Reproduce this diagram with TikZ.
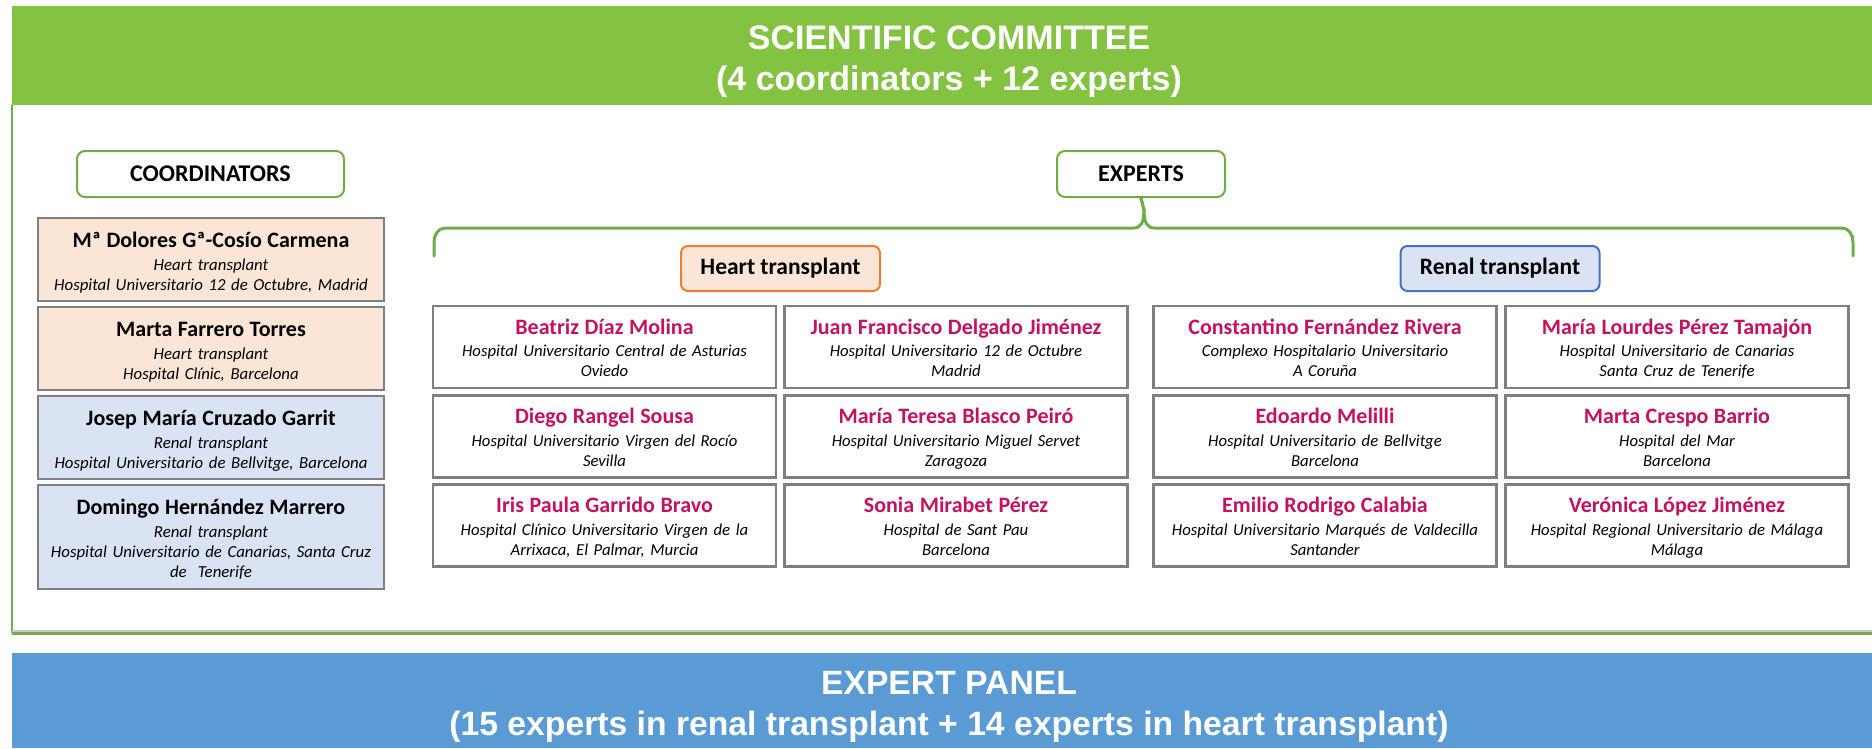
\documentclass[tikz,border=0pt]{standalone}
\usepackage{fontspec}
\setmainfont{Carlito}
\newfontfamily\arialfont{Liberation Sans}
\definecolor{hdrgreen}{RGB}{132,194,65}
\definecolor{linegreen}{RGB}{112,173,71}
\definecolor{panelblue}{RGB}{91,155,213}
\definecolor{peach}{RGB}{251,229,214}
\definecolor{lightblue}{RGB}{218,227,243}
\definecolor{orangeb}{RGB}{237,125,49}
\definecolor{blueb}{RGB}{68,114,196}
\definecolor{boxgray}{RGB}{127,127,127}
\definecolor{namered}{RGB}{196,18,96}
\newcommand\cname[1]{{\fontsize{22}{24}\selectfont\upshape\bfseries\rule{0pt}{23pt}#1}\\[3pt]}
\newcommand\ename[1]{{\fontsize{22}{24}\selectfont\upshape\bfseries\color{namered}\rule{0pt}{21.5pt}#1}\\[2.5pt]}
\newcommand\zs{\rule[-5pt]{0pt}{5pt}}
\tikzset{
  titletext/.style={font=\arialfont\bfseries\fontsize{34}{41}\selectfont, text=white, align=center, inner sep=0},
  grouphead/.style={draw=linegreen, line width=2, rounded corners=8, fill=white, minimum height=46, inner sep=0, font=\bfseries\fontsize{24}{26}\selectfont},
  subhead/.style={line width=2, rounded corners=7, minimum width=199, minimum height=45, inner sep=0, font=\bfseries\fontsize{23.5}{26}\selectfont},
  coordbox/.style={draw=boxgray, line width=2.5, minimum width=346, text width=340, align=center, inner sep=0, font=\itshape\fontsize{16.8}{20}\selectfont},
  expbox/.style={draw=boxgray, line width=2.5, minimum width=343, minimum height=82, text width=338, align=center, inner sep=0, font=\itshape\fontsize{16.7}{20}\selectfont},
  bracket/.style={draw=linegreen, line width=3, line join=round, line cap=round}
}
\begin{document}
\begin{tikzpicture}[x=1pt,y=-1pt]
\useasboundingbox (0,0) rectangle (1872,748);
% header and footer bands
\fill[hdrgreen] (12,6) rectangle (1872,105);
\fill[panelblue] (12,653) rectangle (1872,748);
\node[titletext] (sctitle) at (949,61.5) {SCIENTIFIC COMMITTEE\\(4 coordinators + 12 experts)};
\node[titletext, font=\arialfont\bfseries\fontsize{33.7}{41}\selectfont] (eptitle) at (949,707) {EXPERT PANEL\\(15 experts in renal transplant + 14 experts in heart transplant)};
% committee frame
\draw[linegreen, line width=1.2] (12,105) -- (12,633);
\draw[black!22, line width=1.5] (12,631) -- (1872,631);
\draw[linegreen, line width=3] (12,633.5) -- (1872,633.5);
% group headers
\node[grouphead, minimum width=267] (coord) at (210.5,174) {COORDINATORS};
\node[grouphead, minimum width=168] (ex) at (1141,174) {EXPERTS};
% coordinators
\node[coordbox, fill=peach, minimum height=83] (c1) at (211,259.5) {\cname{Mª Dolores Gª-Cosío Carmena}Heart transplant\\Hospital Universitario 12 de Octubre, Madrid\zs};
\node[coordbox, fill=peach, minimum height=83] (c2) at (211,348.5) {\cname{Marta Farrero Torres}Heart transplant\\Hospital Clínic, Barcelona\zs};
\node[coordbox, fill=lightblue, minimum height=83] (c3) at (211,437.5) {\cname{Josep María Cruzado Garrit}Renal transplant\\Hospital Universitario de Bellvitge, Barcelona\zs};
\node[coordbox, fill=lightblue, minimum height=104] (c4) at (211,537) {\cname{Domingo Hernández Marrero}Renal transplant\\Hospital Universitario de Canarias, Santa Cruz\\de~~Tenerife\zs};
% bracket
\coordinate (bl) at (434,256);
\coordinate (br) at (1853,256);
\draw[bracket] (bl) -- (434,242) to[out=90,in=180] (445,228) -- (1134,228) .. controls (1141,228) and (1144,222) .. (1144,210) -- (ex.south);
\draw[bracket] (ex.south) -- (1144,210) .. controls (1144,222) and (1147,228) .. (1154,228) -- (1842,228) to[out=0,in=90] (1853,242) -- (br);
% sub headers
\node[subhead, draw=orangeb, fill=peach] (heart) at (780.5,268.5) {Heart transplant};
\node[subhead, draw=blueb, fill=lightblue] (renal) at (1500,268.5) {Renal transplant};
% heart experts
\node[expbox] (h1) at (604.5,347) {\ename{Beatriz Díaz Molina}Hospital Universitario Central de Asturias\\Oviedo\zs};
\node[expbox] (h2) at (956,347) {\ename{Juan Francisco Delgado Jiménez}Hospital Universitario 12 de Octubre\\Madrid\zs};
\node[expbox] (h3) at (604.5,436.5) {\ename{Diego Rangel Sousa}Hospital Universitario Virgen del Rocío\\Sevilla\zs};
\node[expbox] (h4) at (956,436.5) {\ename{María Teresa Blasco Peiró}Hospital Universitario Miguel Servet\\Zaragoza\zs};
\node[expbox] (h5) at (604.5,525.5) {\ename{Iris Paula Garrido Bravo}Hospital Clínico Universitario Virgen de la\\Arrixaca, El Palmar, Murcia\zs};
\node[expbox] (h6) at (956,525.5) {\ename{Sonia Mirabet Pérez}Hospital de Sant Pau\\Barcelona\zs};
% renal experts
\node[expbox] (r1) at (1325,347) {\ename{Constantino Fernández Rivera}Complexo Hospitalario Universitario\\A Coruña\zs};
\node[expbox] (r2) at (1677,347) {\ename{María Lourdes Pérez Tamajón}Hospital Universitario de Canarias\\Santa Cruz de Tenerife\zs};
\node[expbox] (r3) at (1325,436.5) {\ename{Edoardo Melilli}Hospital Universitario de Bellvitge\\Barcelona\zs};
\node[expbox] (r4) at (1677,436.5) {\ename{Marta Crespo Barrio}Hospital del Mar\\Barcelona\zs};
\node[expbox] (r5) at (1325,525.5) {\ename{Emilio Rodrigo Calabia}Hospital Universitario Marqués de Valdecilla\\Santander\zs};
\node[expbox] (r6) at (1677,525.5) {\ename{Verónica López Jiménez}Hospital Regional Universitario de Málaga\\Málaga\zs};
\end{tikzpicture}
\end{document}
